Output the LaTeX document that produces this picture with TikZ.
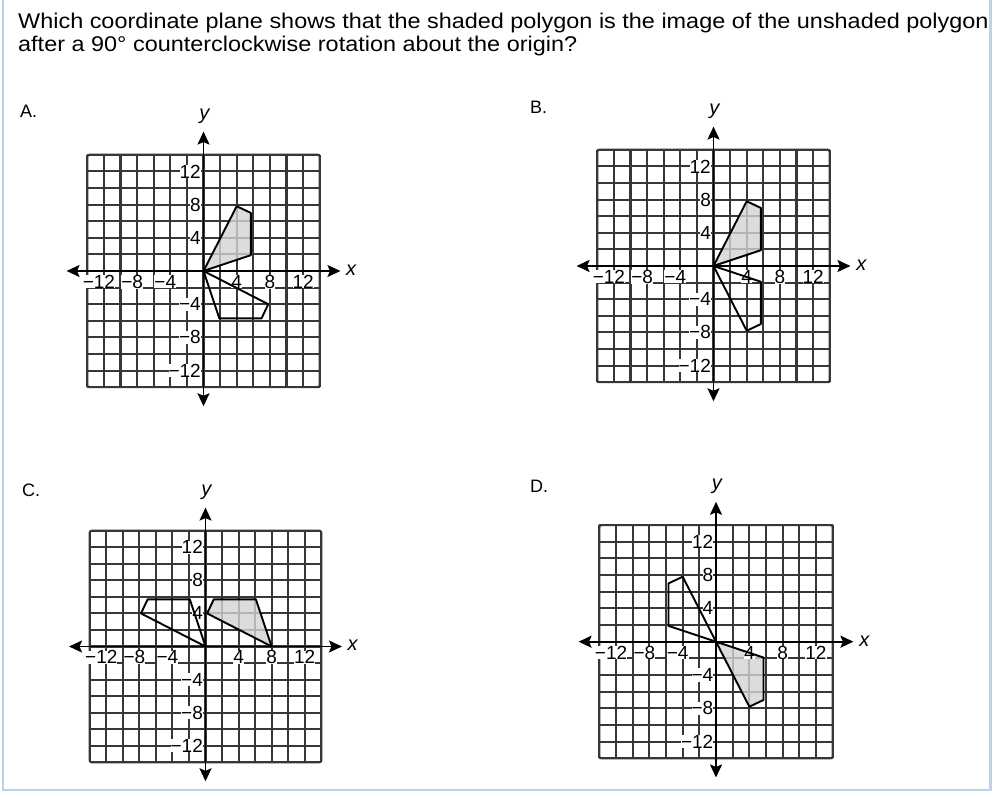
\documentclass[tikz,border=0pt]{standalone}
\usepackage{fontspec}
\setmainfont{Liberation Sans}
\newfontfamily\titlefont[FakeStretch=1.1]{Liberation Sans}
\usetikzlibrary{arrows.meta}
\definecolor{bordercol}{RGB}{185,211,238}
\definecolor{gridcol}{RGB}{55,55,55}
\definecolor{shadecol}{RGB}{212,212,212}
\tikzset{
  gridln/.style={draw=gridcol, line width=2.1pt},
  axisln/.style={draw=black, line width=1.9pt, {Stealth[length=13pt,width=12pt,inset=2.5pt]}-{Stealth[length=13pt,width=12pt,inset=2.5pt]}},
  polyln/.style={draw=black, line width=1.9pt, line join=round},
  shadefill/.style={fill=shadecol, fill opacity=0.8},
  ticklab/.style={font=\fontsize{19}{19}\selectfont, fill=white, inner sep=0pt},
  axlab/.style={font=\fontsize{20}{20}\selectfont\itshape, inner sep=0pt},
  panlab/.style={font=\fontsize{18}{18}\selectfont, anchor=base west, inner sep=0pt},
  titletext/.style={font=\titlefont\fontsize{21.3}{23.4}\selectfont, anchor=base west, inner sep=0pt}
}
\newcommand{\planegrid}{%
  \draw[gridln] (-14,-14) grid[step=2] (14,14);
  \draw[gridln, rounded corners=2pt] (-14,-14) rectangle (14,14);
}
\newcommand{\planelabels}[1]{%
  \foreach \v in {4,8,12} {
    \node[ticklab, anchor=east] (#1-yp\v) at (-0.3,\v) {\v};
    \node[ticklab, anchor=east] (#1-yn\v) at (-0.3,-\v) {−\v};
    \node[ticklab] (#1-xp\v) at (\v,-1.3) {\v};
    \node[ticklab] (#1-xn\v) at (-\v-0.6,-1.3) {−\v};
  }
}
\newcommand{\planeaxes}[1]{%
  \draw[axisln] (-16.5,0) -- (16.5,0);
  \draw[axisln] (0,-16.3) -- (0,16.8);
  \node[axlab] (#1-xl) at (17.8,0.1) {x};
  \node[axlab] (#1-yl) at (0.1,18.6) {y};
}
\begin{document}
\begin{tikzpicture}[x=1pt,y=1pt]
\useasboundingbox (0,0) rectangle (998,796);
\fill[white] (0,0) rectangle (998,796);
\draw[bordercol, line width=2.5pt] (3,797) -- (3,6) -- (990.5,6) -- (990.5,797);

\node[titletext] (t1) at (18,767.7) {Which coordinate plane shows that the shaded polygon is the image of the unshaded polygon};
\node[titletext] (t2) at (18,744.3) {after a 90° counterclockwise rotation about the origin?};

\node[panlab] (lA) at (20,678) {A.};
\node[panlab] (lB) at (530,682) {B.};
\node[panlab] (lC) at (22,300) {C.};
\node[panlab] (lD) at (530,304) {D.};

% Panel A
\begin{scope}[shift={(203.5,525)}, x=8.3pt, y=8.3pt]
  \planegrid
  \filldraw[shadefill, draw=none] (0,0) -- (4,7.8) -- (5.7,7) -- (5.7,1.9) -- cycle;
  \planelabels{A}
  \planeaxes{A}
  \draw[polyln] (0,0) -- (4,7.8) -- (5.7,7) -- (5.7,1.9) -- cycle;
  \draw[polyln] (0,0) -- (7.8,-4) -- (7,-5.7) -- (1.9,-5.7) -- cycle;
\end{scope}

% Panel B
\begin{scope}[shift={(713.5,530)}, x=8.3pt, y=8.3pt]
  \planegrid
  \filldraw[shadefill, draw=none] (0,0) -- (4,7.8) -- (5.7,7) -- (5.7,1.9) -- cycle;
  \planelabels{B}
  \planeaxes{B}
  \draw[polyln] (0,0) -- (4,7.8) -- (5.7,7) -- (5.7,1.9) -- cycle;
  \draw[polyln] (0,0) -- (4,-7.8) -- (5.7,-7) -- (5.7,-1.9) -- cycle;
\end{scope}

% Panel C
\begin{scope}[shift={(205.5,149.5)}, x=8.27pt, y=8.27pt]
  \planegrid
  \filldraw[shadefill, draw=none] (8,0) -- (0.2,4) -- (1,5.7) -- (6.1,5.7) -- cycle;
  \planelabels{C}
  \planeaxes{C}
  \draw[polyln] (8,0) -- (0.2,4) -- (1,5.7) -- (6.1,5.7) -- cycle;
  \draw[polyln] (0,0) -- (-7.8,4) -- (-7,5.7) -- (-1.9,5.7) -- cycle;
\end{scope}

% Panel D
\begin{scope}[shift={(716,154.3)}, x=8.33pt, y=8.33pt]
  \planegrid
  \filldraw[shadefill, draw=none] (0,0) -- (4,-7.8) -- (5.7,-7) -- (5.7,-1.9) -- cycle;
  \planelabels{D}
  \planeaxes{D}
  \draw[polyln] (0,0) -- (4,-7.8) -- (5.7,-7) -- (5.7,-1.9) -- cycle;
  \draw[polyln] (0,0) -- (-4,7.8) -- (-5.7,7) -- (-5.7,1.9) -- cycle;
\end{scope}
\end{tikzpicture}
\end{document}
